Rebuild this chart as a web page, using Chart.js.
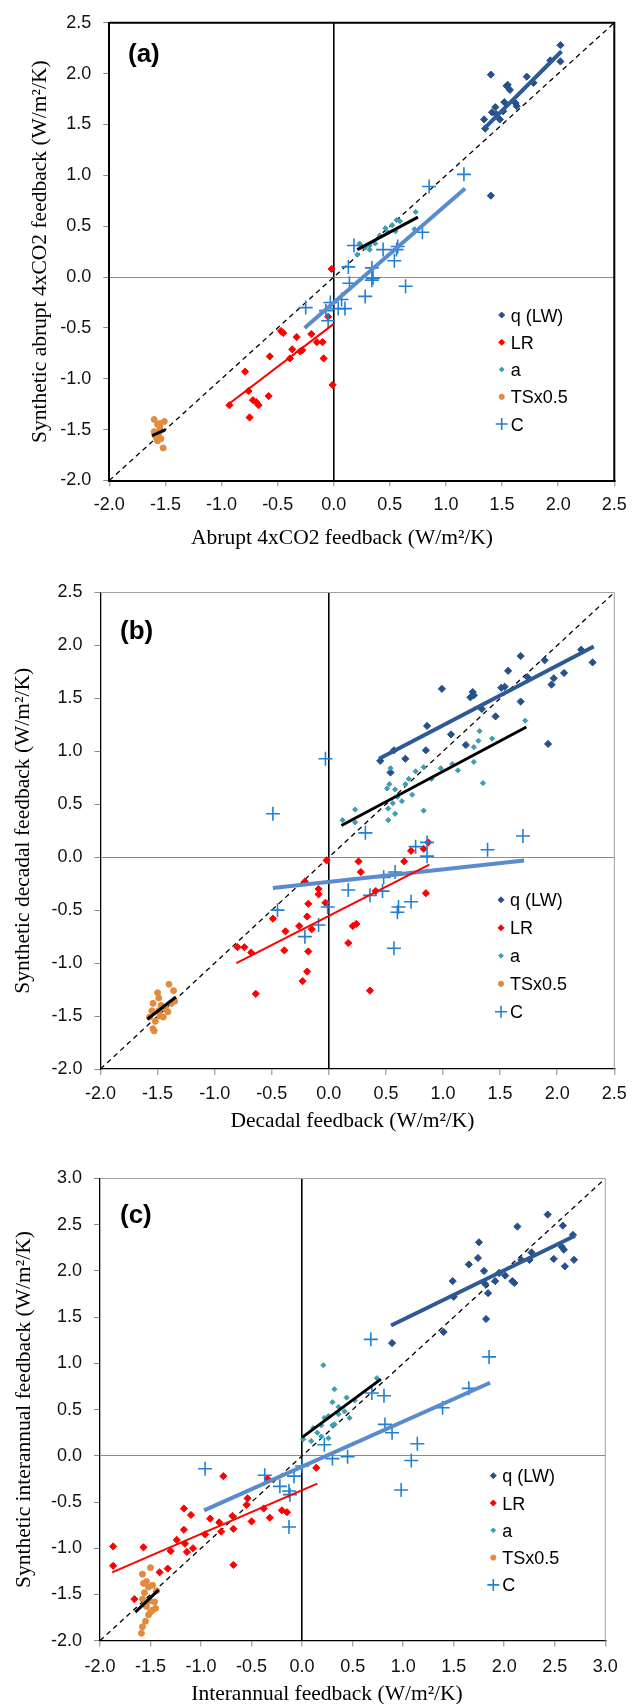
<!DOCTYPE html>
<html lang="en">
<head>
<meta charset="UTF-8">
<title>Synthetic vs model feedbacks</title>
<script src="https://cdn.jsdelivr.net/npm/chart.js"></script>
<style>
  body { margin: 0; background: #fff; }
  #page { position: relative; width: 639px; height: 1704px; }
  canvas { position: absolute; left: 0; }
</style>
</head>
<body>
<div id="page">
  <canvas id="panelA" width="639" height="560" style="top:0px"></canvas>
  <canvas id="panelB" width="639" height="590" style="top:560px"></canvas>
  <canvas id="panelC" width="639" height="554" style="top:1150px"></canvas>
</div>
<script>
// ---- data (W/m2/K) ----
const seriesNames = ['q (LW)', 'LR', 'a', 'TSx0.5', 'C'];
const ticksAB = [-2.0, -1.5, -1.0, -0.5, 0.0, 0.5, 1.0, 1.5, 2.0, 2.5];
const ticksC = [-2.0, -1.5, -1.0, -0.5, 0.0, 0.5, 1.0, 1.5, 2.0, 2.5, 3.0];
const diagAB = [[-2, -2], [2.5, 2.5]];
const diagC = [[-2, -2], [3, 3]];

// (a) abrupt 4xCO2
const aQ = [[1.40,1.99],[1.72,1.97],[1.55,1.89],[1.57,1.84],[1.78,1.91],[1.52,1.72],[1.62,1.71],[1.44,1.67],[1.45,1.60],[1.34,1.55],[1.35,1.46],[1.48,1.55],[1.93,2.13],[2.02,2.28],[2.02,2.12],[1.40,0.80],[1.51,1.63],[1.63,1.68],[1.41,1.62],[1.54,1.88]];
const aLR = [[-0.02,0.08],[-0.05,-0.39],[-0.47,-0.53],[-0.45,-0.55],[-0.33,-0.59],[-0.20,-0.56],[-0.15,-0.64],[-0.10,-0.64],[-0.37,-0.71],[-0.39,-0.80],[-0.28,-0.72],[-0.30,-0.73],[-0.09,-0.80],[-0.57,-0.78],[-0.79,-0.93],[-0.76,-1.12],[-0.72,-1.21],[-0.69,-1.23],[-0.67,-1.26],[-0.58,-1.17],[-0.75,-1.38],[-0.93,-1.26],[-0.01,-1.06]];
const aA = [[0.73,0.64],[0.72,0.47],[0.59,0.55],[0.56,0.56],[0.52,0.51],[0.48,0.44],[0.41,0.41],[0.37,0.33],[0.32,0.27],[0.28,0.29],[0.23,0.33],[0.21,0.22],[0.32,0.31],[0.46,0.48],[0.55,0.45],[0.25,0.30]];
const aTS = [[-1.60,-1.40],[-1.57,-1.45],[-1.51,-1.42],[-1.55,-1.50],[-1.59,-1.56],[-1.57,-1.61],[-1.54,-1.59],[-1.55,-1.47],[-1.52,-1.68],[-1.60,-1.52],[-1.56,-1.54],[-1.55,-1.44],[-1.58,-1.58]];
const aC = [[1.16,1.01],[0.85,0.89],[0.79,0.44],[0.57,0.30],[0.56,0.27],[0.44,0.27],[0.54,0.16],[0.64,-0.09],[0.34,0.09],[0.35,-0.01],[0.34,-0.03],[0.13,0.10],[0.14,-0.06],[0.28,-0.19],[0.18,0.31],[0.07,-0.22],[0.10,-0.31],[0.04,-0.31],[-0.03,-0.25],[-0.07,-0.33],[-0.25,-0.30],[-0.05,-0.43]];
const aFitQ = [[1.34,1.46],[2.03,2.22]];
const aFitLR = [[-0.95,-1.26],[0.00,-0.46]];
const aFitA = [[0.21,0.27],[0.75,0.59]];
const aFitTS = [[-1.62,-1.56],[-1.50,-1.50]];
const aFitC = [[-0.26,-0.50],[1.17,0.87]];

// (b) decadal
const bQ = [[0.45,0.91],[0.54,0.80],[0.57,1.01],[0.67,0.93],[0.85,1.01],[0.86,1.24],[0.99,1.59],[1.07,1.16],[1.20,1.06],[1.24,1.51],[1.26,1.56],[1.27,1.53],[1.34,1.40],[1.46,1.33],[1.51,1.60],[1.57,1.76],[1.54,1.61],[1.68,1.90],[1.68,1.47],[1.74,1.70],[1.89,1.86],[1.92,1.07],[1.95,1.63],[1.97,1.69],[2.06,1.74],[2.21,1.96],[2.31,1.84]];
const bLR = [[-0.02,-0.03],[0.26,-0.04],[0.28,-0.14],[0.72,0.06],[0.83,0.08],[0.87,0.14],[0.85,-0.34],[0.66,-0.04],[0.41,-0.32],[0.24,-0.63],[0.21,-0.65],[0.17,-0.81],[0.36,-1.26],[-0.03,-0.43],[-0.09,-0.30],[-0.09,-0.35],[-0.21,-0.23],[-0.18,-0.44],[-0.19,-0.56],[-0.15,-0.68],[-0.26,-0.65],[-0.18,-0.89],[-0.19,-1.08],[-0.23,-1.17],[-0.38,-0.70],[-0.39,-0.88],[-0.49,-0.58],[-0.64,-1.29],[-0.68,-0.90],[-0.74,-0.85],[-0.80,-0.85]];
const bA = [[0.12,0.35],[0.23,0.45],[0.23,0.33],[0.52,0.35],[0.52,0.46],[0.53,0.69],[0.54,0.84],[0.58,0.64],[0.56,0.51],[0.58,0.41],[0.60,0.57],[0.64,0.53],[0.67,0.69],[0.73,0.59],[0.76,0.81],[0.83,0.85],[0.83,0.44],[0.90,0.74],[0.98,0.84],[1.08,0.88],[1.13,0.82],[1.27,0.90],[1.27,1.04],[1.31,1.10],[1.32,1.19],[1.35,0.70],[1.43,1.12],[1.72,1.29],[0.70,0.74],[0.51,0.65]];
const bTS = [[-1.40,-1.20],[-1.50,-1.28],[-1.49,-1.33],[-1.54,-1.38],[-1.47,-1.40],[-1.43,-1.43],[-1.36,-1.26],[-1.35,-1.36],[-1.41,-1.46],[-1.48,-1.50],[-1.52,-1.55],[-1.45,-1.51],[-1.54,-1.62],[-1.53,-1.64],[-1.57,-1.51],[-1.55,-1.45],[-1.49,-1.45],[-1.38,-1.38]];
const bC = [[-0.03,0.93],[-0.49,0.41],[0.32,0.23],[1.39,0.07],[1.70,0.20],[0.76,0.10],[0.86,0.14],[0.86,0.01],[0.58,-0.14],[0.48,-0.19],[0.47,-0.32],[0.17,-0.31],[0.36,-0.36],[0.61,-0.47],[0.60,-0.52],[0.72,-0.42],[0.57,-0.86],[-0.01,-0.47],[-0.09,-0.64],[-0.21,-0.75],[-0.45,-0.50]];
const bFitQ = [[0.44,0.93],[2.32,1.99]];
const bFitLR = [[-0.81,-1.00],[0.88,-0.07]];
const bFitA = [[0.11,0.30],[1.73,1.23]];
const bFitTS = [[-1.59,-1.53],[-1.34,-1.32]];
const bFitC = [[-0.49,-0.29],[1.71,-0.03]];

// (c) interannual
const cQ = [[0.89,1.22],[1.40,1.34],[1.49,1.89],[1.50,1.72],[1.65,2.07],[1.74,2.14],[1.75,2.31],[1.80,2.00],[1.82,1.48],[1.81,1.86],[1.84,1.76],[1.91,1.89],[1.95,1.98],[2.01,1.95],[2.08,1.89],[2.10,1.87],[2.13,2.48],[2.17,2.12],[2.25,2.12],[2.27,2.20],[2.43,2.61],[2.49,2.13],[2.58,2.49],[2.57,2.26],[2.59,2.23],[2.60,2.05],[2.68,2.39],[2.69,2.12]];
const cLR = [[0.14,-0.13],[-0.78,-0.22],[-0.34,-0.25],[-0.54,-0.46],[-0.55,-0.53],[-0.38,-0.57],[-0.32,-0.67],[-0.20,-0.59],[-0.15,-0.61],[-0.50,-0.71],[-0.69,-0.65],[-0.82,-0.72],[-0.80,-0.82],[-0.68,-0.79],[-0.91,-0.68],[-0.96,-0.85],[-1.10,-0.64],[-1.17,-0.57],[-1.17,-0.80],[-1.16,-0.95],[-1.24,-0.91],[-1.14,-1.04],[-1.08,-1.00],[-1.30,-1.03],[-0.68,-1.18],[-1.33,-1.22],[-1.41,-1.26],[-1.57,-0.99],[-1.87,-0.98],[-1.87,-1.19],[-1.66,-1.55]];
const cA = [[0.21,0.98],[0.32,0.72],[0.44,0.63],[0.47,0.41],[0.42,0.48],[0.30,0.58],[0.36,0.53],[0.26,0.43],[0.22,0.41],[0.30,0.33],[0.19,0.33],[0.15,0.25],[0.11,0.30],[0.26,0.19],[0.19,0.21],[0.09,0.16],[0.01,0.18],[0.52,0.60],[0.74,0.84],[0.32,0.34],[0.36,0.45]];
const cTS = [[-1.50,-1.21],[-1.58,-1.28],[-1.57,-1.38],[-1.54,-1.36],[-1.52,-1.42],[-1.48,-1.40],[-1.44,-1.46],[-1.56,-1.48],[-1.58,-1.55],[-1.51,-1.57],[-1.46,-1.58],[-1.54,-1.63],[-1.45,-1.65],[-1.50,-1.69],[-1.52,-1.72],[-1.48,-1.67],[-1.55,-1.79],[-1.58,-1.85],[-1.59,-1.92],[-1.55,-1.61]];
const cC = [[0.68,1.26],[1.85,1.07],[1.65,0.73],[1.39,0.52],[0.69,0.68],[0.81,0.65],[0.82,0.34],[0.89,0.25],[1.14,0.13],[0.22,0.12],[0.30,-0.03],[0.45,-0.01],[1.08,-0.05],[0.98,-0.37],[-0.96,-0.14],[-0.37,-0.21],[-0.22,-0.33],[-0.12,-0.42],[-0.13,-0.38],[-0.08,-0.22],[0.00,-0.11],[-0.13,-0.77]];
const cFitQ = [[0.88,1.41],[2.70,2.38]];
const cFitLR = [[-1.88,-1.26],[0.15,-0.30]];
const cFitA = [[0.00,0.20],[0.78,0.83]];
const cFitTS = [[-1.65,-1.69],[-1.42,-1.45]];
const cFitC = [[-0.97,-0.59],[1.86,0.79]];

// ---- styling ----
const look = [
  { style: 'rectRot', color: '#27508A', r: 3.6, lr: 3,   fit: '#2D5A95', fitW: 4 },
  { style: 'rectRot', color: '#FF0000', r: 3.6, lr: 3,   fit: '#FF0000', fitW: 2 },
  { style: 'rectRot', color: '#3D9DB3', r: 2.6, lr: 2.4, fit: '#000000', fitW: 3 },
  { style: 'circle',  color: '#E08B3E', r: 3,   lr: 2.6, fit: '#000000', fitW: 3 },
  { style: 'cross',   color: '#2080D4', r: 7,   lr: 6,   fit: '#5A8BCF', fitW: 4 }
];
const sansFont = "'Liberation Sans', Arial, sans-serif";
const serifFont = "'Liberation Serif', 'Times New Roman', serif";

function pts(arr) {
  return arr.map(p => ({ x: p[0], y: p[1] }));
}

// draws frame edges, panel tag, axis titles and the legend
const decor = {
  id: 'decor',
  afterDraw(chart, args, o) {
    const ctx = chart.ctx, a = chart.chartArea;
    ctx.save();
    ctx.strokeStyle = o.frameColor;
    ctx.lineWidth = o.frameW;
    ctx.beginPath();
    ctx.moveTo(a.left, a.top);
    ctx.lineTo(a.right, a.top);
    ctx.lineTo(a.right, a.bottom);
    ctx.stroke();

    ctx.fillStyle = '#000';
    ctx.textBaseline = 'middle';
    ctx.textAlign = 'left';
    ctx.font = 'bold 26px ' + sansFont;
    ctx.fillText(o.tag, o.tagX, o.tagY);

    ctx.font = '21.5px ' + serifFont;
    ctx.textAlign = 'center';
    ctx.fillText(o.xTitle, o.xTitleX, o.xTitleY);
    ctx.save();
    ctx.translate(o.yTitleX, (a.top + a.bottom) / 2);
    ctx.rotate(-Math.PI / 2);
    ctx.fillText(o.yTitle, 0, 0);
    ctx.restore();

    // legend
    ctx.textAlign = 'left';
    ctx.textBaseline = 'alphabetic';
    ctx.font = '18px ' + sansFont;
    seriesNames.forEach((name, i) => {
      const s = look[i];
      const y = o.legY + i * o.legDy;
      ctx.fillStyle = s.color;
      ctx.strokeStyle = s.color;
      ctx.lineWidth = s.style === 'cross' ? 1.6 : 1;
      Chart.helpers.drawPoint(ctx, { pointStyle: s.style, radius: s.lr, rotation: 0, borderWidth: ctx.lineWidth }, o.legX, y);
      ctx.fillStyle = '#000';
      ctx.fillText(name, o.legTextX, y + 6.5);
    });
    ctx.restore();
  }
};

function drawPanel(id, p) {
  const canvas = document.getElementById(id);
  const W = canvas.width, H = canvas.height;
  const datasets = [];
  p.points.forEach((arr, i) => {
    const s = look[i];
    datasets.push({
      label: seriesNames[i],
      data: pts(arr),
      showLine: false,
      pointStyle: s.style,
      pointRadius: s.r,
      pointBackgroundColor: s.color,
      pointBorderColor: s.color,
      pointBorderWidth: s.style === 'cross' ? 1.6 : 1,
      order: 5 - i
    });
  });
  p.fits.forEach((arr, i) => {
    datasets.push({
      label: seriesNames[i] + ' fit',
      data: pts(arr),
      showLine: true,
      pointRadius: 0,
      borderColor: look[i].fit,
      borderWidth: look[i].fitW,
      order: 0
    });
  });
  datasets.push({
    label: '1:1',
    data: pts(p.diag),
    showLine: true,
    pointRadius: 0,
    borderColor: '#000',
    borderWidth: 1.3,
    borderDash: [5, 4],
    order: 10
  });

  const tickOpts = pad => ({
    callback: v => v.toFixed(1),
    font: { family: sansFont, size: 18 },
    color: '#111',
    padding: pad,
    autoSkip: false,
    maxRotation: 0
  });

  new Chart(canvas, {
    type: 'scatter',
    data: { datasets: datasets },
    options: {
      responsive: false,
      animation: false,
      devicePixelRatio: 1,
      layout: { padding: { left: 0, top: p.area.top, right: W - p.area.right, bottom: 0 } },
      plugins: {
        legend: { display: false },
        tooltip: { enabled: false },
        decor: p.decor
      },
      scales: {
        x: {
          type: 'linear',
          min: p.ticks[0],
          max: p.ticks[p.ticks.length - 1],
          afterBuildTicks: s => { s.ticks = p.ticks.map(v => ({ value: v })); },
          afterFit: s => { s.height = H - p.area.bottom; },
          ticks: tickOpts(p.xPad),
          grid: {
            drawOnChartArea: true,
            color: c => (c.tick && c.tick.value === 0) ? '#000' : 'rgba(0,0,0,0)',
            lineWidth: 1.6,
            tickColor: '#888',
            tickLength: 6,
            tickWidth: 1
          },
          border: { color: '#000', width: p.axisW }
        },
        y: {
          type: 'linear',
          min: p.yTicks[0],
          max: p.yTicks[p.yTicks.length - 1],
          afterBuildTicks: s => { s.ticks = p.yTicks.map(v => ({ value: v })); },
          afterFit: s => { s.width = p.area.left; },
          ticks: tickOpts(12),
          grid: {
            drawOnChartArea: true,
            color: c => (c.tick && c.tick.value === 0) ? '#8c8c8c' : 'rgba(0,0,0,0)',
            lineWidth: 1,
            tickColor: '#888',
            tickLength: 6,
            tickWidth: 1
          },
          border: { color: '#000', width: p.axisW }
        }
      }
    },
    plugins: [decor]
  });
}

drawPanel('panelA', {
  points: [aQ, aLR, aA, aTS, aC],
  fits: [aFitQ, aFitLR, aFitA, aFitTS, aFitC],
  diag: diagAB,
  ticks: ticksAB,
  yTicks: ticksAB,
  area: { left: 109.3, top: 16.7, right: 614.3, bottom: 480.5 },
  axisW: 2,
  xPad: 8,
  decor: {
    frameColor: '#000', frameW: 2,
    tag: '(a)', tagX: 128, tagY: 55,
    xTitle: 'Abrupt 4xCO2 feedback (W/m\u00B2/K)', xTitleX: 342, xTitleY: 538,
    yTitle: 'Synthetic abrupt 4xCO2 feedback (W/m\u00B2/K)', yTitleX: 40,
    legX: 501.7, legTextX: 510.7, legY: 315, legDy: 27.25
  }
});

drawPanel('panelB', {
  points: [bQ, bLR, bA, bTS, bC],
  fits: [bFitQ, bFitLR, bFitA, bFitTS, bFitC],
  diag: diagAB,
  ticks: ticksAB,
  yTicks: ticksAB,
  area: { left: 100.5, top: 32.5, right: 614.3, bottom: 509 },
  axisW: 1.3,
  xPad: 8,
  decor: {
    frameColor: '#a0a0a0', frameW: 1,
    tag: '(b)', tagX: 120, tagY: 71.7,
    xTitle: 'Decadal feedback (W/m\u00B2/K)', xTitleX: 352.5, xTitleY: 561,
    yTitle: 'Synthetic decadal feedback (W/m\u00B2/K)', yTitleX: 23,
    legX: 501, legTextX: 510, legY: 339.8, legDy: 28
  }
});

drawPanel('panelC', {
  points: [cQ, cLR, cA, cTS, cC],
  fits: [cFitQ, cFitLR, cFitA, cFitTS, cFitC],
  diag: diagC,
  ticks: ticksC,
  yTicks: ticksC,
  area: { left: 100, top: 28.5, right: 605.3, bottom: 490.7 },
  axisW: 1.3,
  xPad: 10,
  decor: {
    frameColor: '#a0a0a0', frameW: 1,
    tag: '(c)', tagX: 120, tagY: 66,
    xTitle: 'Interannual feedback (W/m\u00B2/K)', xTitleX: 327, xTitleY: 544,
    yTitle: 'Synthetic interannual feedback (W/m\u00B2/K)', yTitleX: 24,
    legX: 493.3, legTextX: 502.3, legY: 325.7, legDy: 27.3
  }
});
</script>
</body>
</html>
